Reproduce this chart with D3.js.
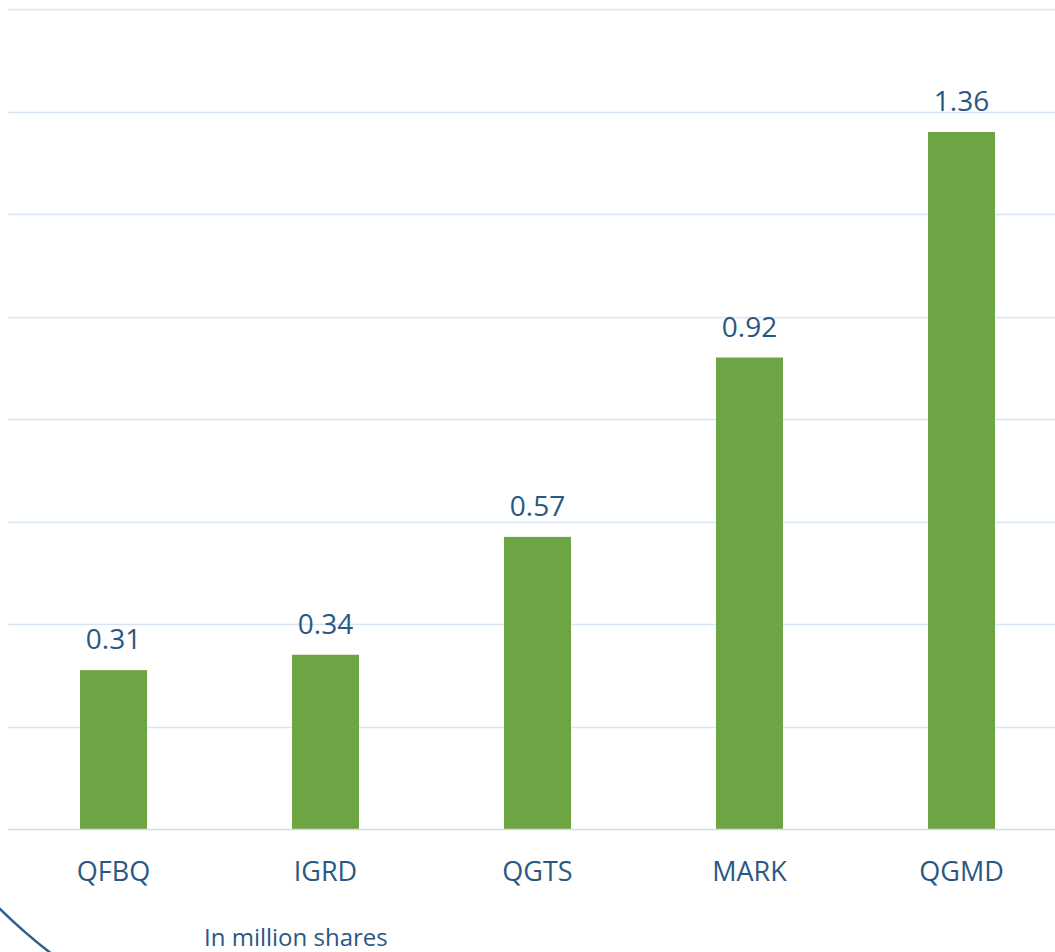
<!DOCTYPE html>
<html>
<head>
<meta charset="utf-8">
<script src="https://cdn.jsdelivr.net/npm/d3@7"></script>
<style>
  body { margin: 0; background: #fff; }
  text { font-family: "Open Sans", sans-serif; fill: #2b5883; }
</style>
</head>
<body>
<svg id="draw"></svg>
<script>
// data
var categories = ["QFBQ", "IGRD", "QGTS", "MARK", "QGMD"];
var values = [0.31, 0.34, 0.57, 0.92, 1.36];
var gridTicks = [0.2, 0.4, 0.6, 0.8, 1.0, 1.2, 1.4, 1.6];
var unitNote = "In million shares";

var data = categories.map(function(c, i) {
  return { name: c, value: values[i] };
});

var width = 1055;
var height = 952;
var margin = { top: 9, left: 8, baseline: 829 };

var svg = d3.select("#draw")
  .attr("width", width)
  .attr("height", height);

var xScale = d3.scaleBand()
  .domain(categories)
  .range([7.5, 1067.5])
  .paddingInner(0.684)
  .paddingOuter(0.342);

var yScale = d3.scaleLinear()
  .domain([0, 1.6])
  .range([margin.baseline, margin.top]);

// horizontal grid lines
svg.append("g")
  .selectAll("line")
  .data(gridTicks)
  .enter().append("line")
  .attr("x1", margin.left)
  .attr("x2", width)
  .attr("y1", function(d) { return Math.round(yScale(d)) + 0.5; })
  .attr("y2", function(d) { return Math.round(yScale(d)) + 0.5; })
  .attr("stroke", "#d6e6f5")
  .attr("stroke-width", 1.5);

// bars
svg.selectAll(".bar")
  .data(data)
  .enter().append("rect")
  .attr("class", "bar")
  .attr("fill", "#6ea544")
  .attr("x", function(d) { return xScale(d.name); })
  .attr("y", function(d) { return yScale(d.value); })
  .attr("width", xScale.bandwidth())
  .attr("height", function(d) { return yScale(0) - yScale(d.value); });

// baseline
svg.append("line")
  .attr("x1", margin.left)
  .attr("x2", width)
  .attr("y1", yScale(0) + 0.5)
  .attr("y2", yScale(0) + 0.5)
  .attr("stroke", "#d9d9d9")
  .attr("stroke-width", 1.5);

// value labels
svg.selectAll(".val")
  .data(data)
  .enter().append("text")
  .attr("class", "val")
  .attr("text-anchor", "middle")
  .attr("font-size", 28)
  .attr("x", function(d) { return xScale(d.name) + xScale.bandwidth() / 2; })
  .attr("y", function(d) { return yScale(d.value) - 21; })
  .text(function(d) { return d.value.toFixed(2); });

// category axis
var xAxis = svg.append("g")
  .attr("transform", "translate(0," + yScale(0) + ")")
  .call(d3.axisBottom(xScale).tickSize(0).tickPadding(0));
xAxis.select(".domain").remove();
xAxis.selectAll("text")
  .attr("font-size", 27)
  .attr("font-family", "Open Sans, sans-serif")
  .attr("fill", "#2b5883")
  .attr("dy", null)
  .attr("y", 52);

// decorative arc at bottom left
svg.append("path")
  .attr("d", d3.arc()
    .innerRadius(572)
    .outerRadius(572)
    .startAngle(Math.PI)
    .endAngle(Math.PI * 1.5))
  .attr("transform", "translate(400,500)")
  .attr("fill", "none")
  .attr("stroke", "#2e6193")
  .attr("stroke-width", 2.5);

// unit note
svg.append("text")
  .attr("x", 204)
  .attr("y", 946)
  .attr("font-family", "Lato, sans-serif")
  .attr("font-size", 24)
  .text(unitNote);
</script>
</body>
</html>
